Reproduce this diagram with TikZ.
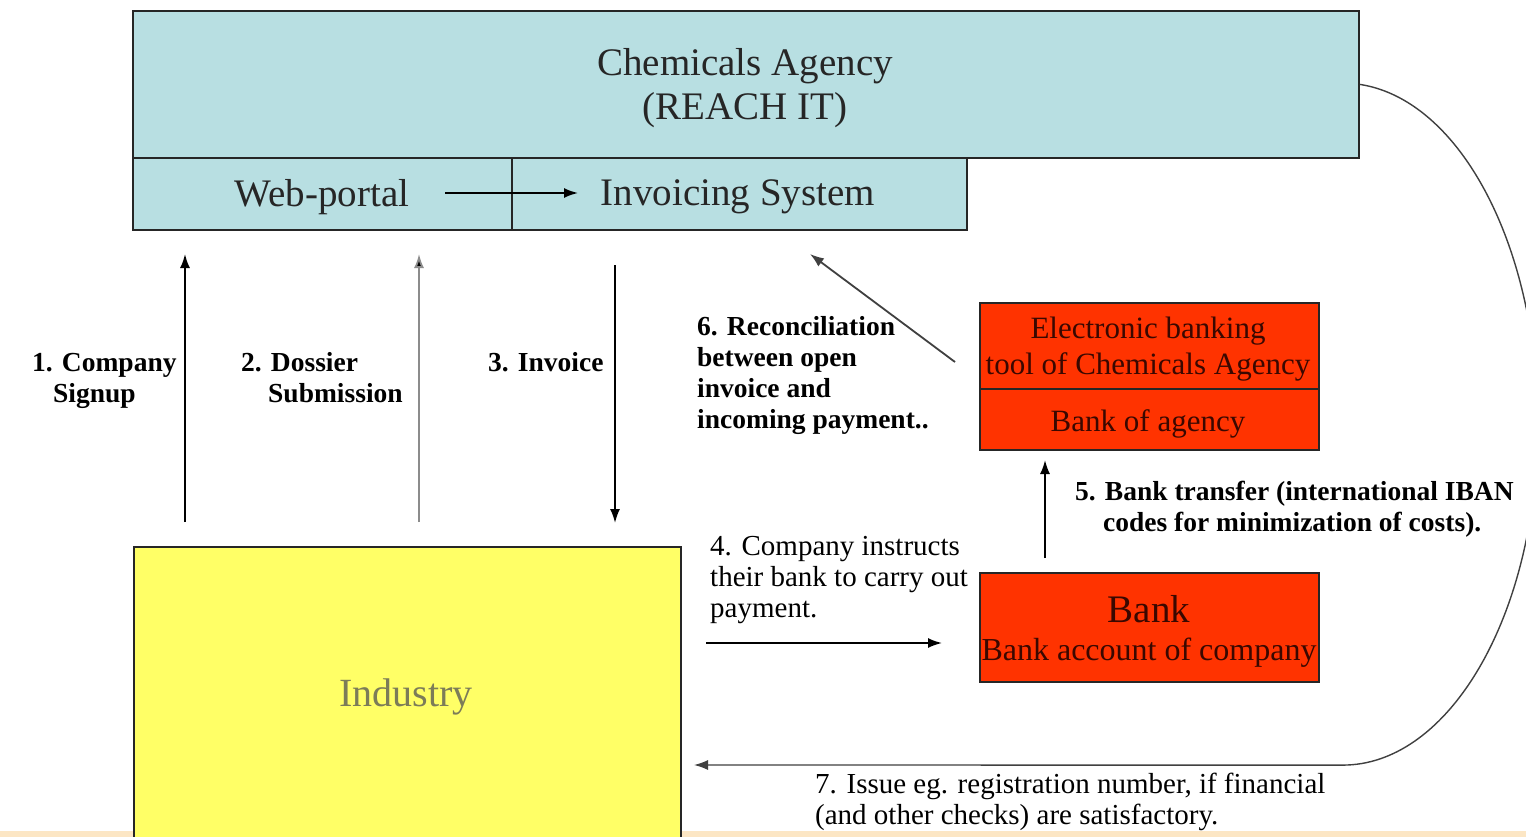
\documentclass[tikz,border=0pt]{standalone}
\usepackage{fontspec}
\setmainfont{Liberation Serif}
\usetikzlibrary{arrows.meta}
\definecolor{agblue}{HTML}{B8DFE2}
\definecolor{bankred}{HTML}{FF3300}
\definecolor{bankink}{HTML}{3A0800}
\definecolor{indyellow}{HTML}{FFFF66}
\definecolor{indgray}{HTML}{7C7C58}
\definecolor{stripe}{HTML}{FCE6C4}
\begin{document}
\begin{tikzpicture}[x=1pt,y=-1pt,
 box/.style={draw=black!85, line width=1.8pt, inner sep=0pt, anchor=north west},
 bluebox/.style={box, fill=agblue},
 redbox/.style={box, fill=bankred},
 arr/.style={line width=1.8pt, -{Latex[length=14pt,width=10pt]}},
 lbl/.style={inner sep=0pt, anchor=base west, align=left, font=\fontsize{27.5}{31}\selectfont\bfseries},
 lblr/.style={lbl, font=\fontsize{29}{31}\selectfont},
 bigtxt/.style={inner sep=0pt, font=\fontsize{39}{44}\selectfont, text=black!85, align=center},
 redtxt/.style={inner sep=0pt, font=\fontsize{31}{36}\selectfont, text=bankink, align=center},
]
\clip (0,0) rectangle (1526,837);
\fill[white] (0,0) rectangle (1526,837);
\fill[stripe] (0,831) rectangle (1526,837);

% boxes
\node[bluebox, minimum width=1226pt, minimum height=147pt] (agency) at (132,10) {};
\node[bluebox, minimum width=379pt, minimum height=72pt] (web) at (132,157) {};
\node[bluebox, minimum width=455pt, minimum height=72pt] (inv) at (511,157) {};
\node[redbox, minimum width=339pt, minimum height=86pt] (ebank) at (979,302) {};
\node[redbox, minimum width=339pt, minimum height=61pt] (bagency) at (979,388) {};
\node[redbox, minimum width=339pt, minimum height=109pt] (bank) at (979,572) {};
\node[box, fill=indyellow, minimum width=547pt, minimum height=320pt] (industry) at (133,546) {};

% box texts
\node[bigtxt] (agencytxt) at (745,88) {Chemicals Agency\\(REACH IT)};
\node[bigtxt] (webtxt) at (322,197) {Web-portal};
\node[bigtxt] (invtxt) at (738,197) {Invoicing System};
\node[redtxt] (ebanktxt) at (1148,349) {Electronic banking\\tool of Chemicals Agency};
\node[redtxt] (bagencytxt) at (1148,424) {Bank of agency};
\node[inner sep=0pt, font=\fontsize{39}{44}\selectfont, text=bankink] (banktxt) at (1149,609) {Bank};
\node[inner sep=0pt, font=\fontsize{32}{36}\selectfont, text=bankink] (accttxt) at (1149,653) {Bank account of company};
\node[inner sep=0pt, font=\fontsize{40}{44}\selectfont, text=indgray] (indtxt) at (406,697) {Industry};

% labels (anchor is the baseline of the last line)
\node[lbl] (l1) at (32,402) {1. Company\\\hspace*{21pt}Signup};
\node[lbl] (l2) at (241,402) {2. Dossier\\\hspace*{27pt}Submission};
\node[lbl] (l3) at (488,371) {3. Invoice};
\node[lbl] (l6) at (697,428) {6. Reconciliation\\between open\\invoice and\\incoming payment..};
\node[lblr] (l4) at (710,617) {4. Company instructs\\their bank to carry out\\payment.};
\node[lbl] (l5) at (1075,531) {5. Bank transfer (international IBAN\\\hspace*{28pt}codes for minimization of costs).};
\node[lblr] (l7) at (815,824) {7. Issue eg. registration number, if financial\\(and other checks) are satisfactory.};

% connector end points
\coordinate (wp1) at (445,193);
\coordinate (wp2) at (578,193);
\coordinate (a1s) at (185,522);
\coordinate (a1e) at (185,254);
\coordinate (a2s) at (419,522);
\coordinate (a2e) at (419,254);
\coordinate (a3s) at (615,265);
\coordinate (a3e) at (615,523);
\coordinate (a4s) at (706,643);
\coordinate (a4e) at (942,643);
\coordinate (a5s) at (1045,558);
\coordinate (a5e) at (1045,460);
\coordinate (a6s) at (955,362);
\coordinate (a6e) at (810,254);
\coordinate (a7e) at (694,765);

% connectors
\draw[arr] (wp1) -- (wp2);
\draw[arr] (a1s) -- (a1e);
\draw[arr, draw=black!45, -{Latex[length=14pt,width=10pt,fill=black]}] (a2s) -- (a2e);
\draw[arr] (a3s) -- (a3e);
\draw[arr] (a4s) -- (a4e);
\draw[arr] (a5s) -- (a5e);
\draw[arr, draw=black!75] (a6s) -- (a6e);
\draw[arr, line width=1.4pt, draw=black!75] (agency.east) arc[start angle=85, end angle=-90, x radius=195pt, y radius=341pt] -- (a7e);
\end{tikzpicture}
\end{document}
